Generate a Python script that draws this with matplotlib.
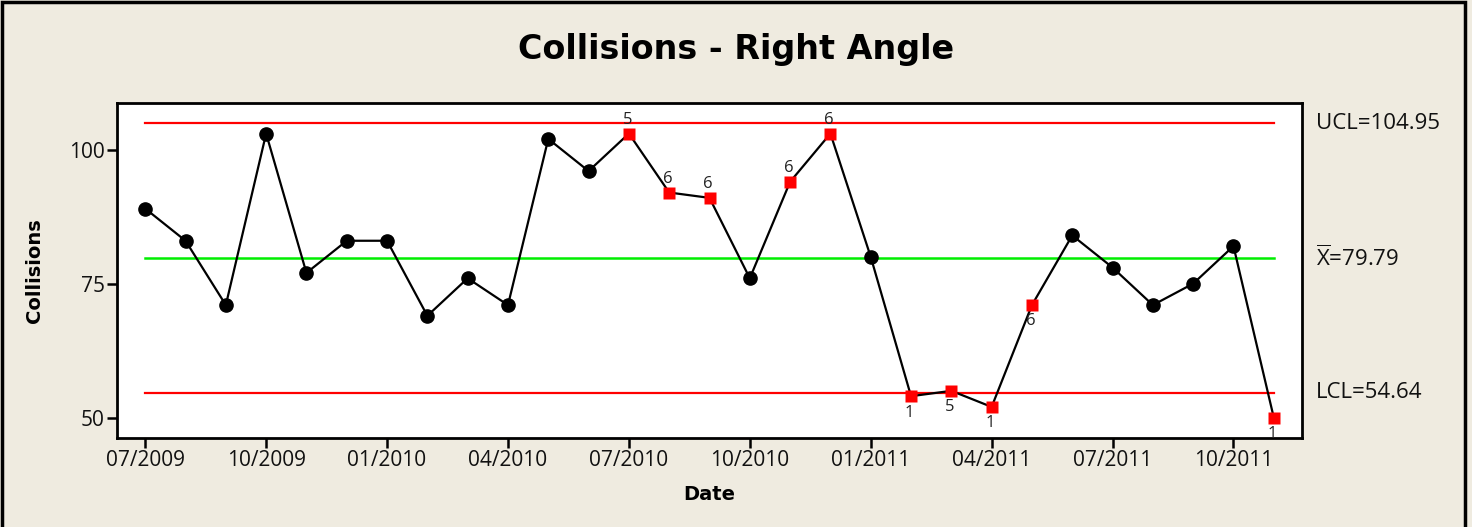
import numpy as np
import matplotlib
matplotlib.use("Agg")
import matplotlib.pyplot as plt
from matplotlib.patches import Rectangle

# Monthly collision counts, 07/2009 .. 11/2011
collisions = [89, 83, 71, 103, 77, 83, 83, 69, 76, 71,
              102, 96, 103, 92, 91, 76, 94, 103, 80, 54,
              55, 52, 71, 84, 78, 71, 75, 82, 50]

# Points flagged by the control chart tests (index -> test number)
flag_index = [12, 13, 14, 16, 17, 19, 20, 21, 22, 28]
flag_test = ["5", "6", "6", "6", "6", "1", "5", "1", "6", "1"]
flag_above = [True, True, True, True, True, False, False, False, False, False]

tick_labels = ["07/2009", "10/2009", "01/2010", "04/2010", "07/2010",
               "10/2010", "01/2011", "04/2011", "07/2011", "10/2011"]

ucl = 104.95
center = 79.79
lcl = 54.64

bg = "#EFEBE0"


def main():
    fig = plt.figure(figsize=(14.72, 5.27), dpi=100, facecolor=bg)
    ax = fig.add_axes([117 / 1472, 1 - 438 / 527, 1185 / 1472, 335 / 527])
    ax.set_facecolor("white")

    x = np.arange(len(collisions))
    y = np.array(collisions, dtype=float)
    normal = [i for i in x if i not in flag_index]

    # control limits and centre line
    ax.plot([x[0], x[-1]], [ucl, ucl], color="#FF0000", lw=1.6, zorder=1)
    ax.plot([x[0], x[-1]], [lcl, lcl], color="#FF0000", lw=1.6, zorder=1)
    ax.plot([x[0], x[-1]], [center, center], color="#00EE00", lw=1.8, zorder=1)

    # data
    ax.plot(x, y, color="black", lw=1.6, marker="o", ms=9.5,
            markevery=normal, zorder=2)
    ax.plot(x[flag_index], y[flag_index], ls="none", marker="s", ms=9,
            mec="none", color="#FF0000", zorder=3)

    for i, t, up in zip(flag_index, flag_test, flag_above):
        ax.annotate(t, (x[i], y[i]), xytext=(-1, 4 if up else -6),
                    textcoords="offset points", ha="center",
                    va="bottom" if up else "top", fontsize=12,
                    family="Open Sans", color="#222222", zorder=4)

    ax.set_xlim(-0.7, 28.7)
    ax.set_ylim(46.2, 108.7)
    ax.set_xticks(x[::3])
    ax.set_xticklabels(tick_labels, family="Open Sans", fontsize=15,
                       color="#111111")
    ax.set_yticks([50, 75, 100])
    ax.set_yticklabels(["50", "75", "100"], family="Open Sans", fontsize=15,
                       color="#111111")
    ax.tick_params(direction="out", length=7, width=1.8, pad=2)
    for s in ax.spines.values():
        s.set_linewidth(2)

    ax.set_xlabel("Date", fontsize=14, fontweight="bold", labelpad=10)
    ax.set_ylabel("Collisions", fontsize=14, fontweight="bold", labelpad=18)

    # limit labels on the right
    lab = dict(transform=ax.get_yaxis_transform(), fontsize=16,
               family="Open Sans", va="center", ha="left", clip_on=False,
               color="#111111")
    ax.text(1.012, ucl, "UCL=104.95", **lab)
    ax.text(1.012, center, r"$\mathregular{\overline{X}}$=79.79", **lab)
    ax.text(1.012, lcl, "LCL=54.64", **lab)

    fig.text(0.5, 1 - 49 / 527, "Collisions - Right Angle", ha="center",
             va="center", fontsize=24, fontweight="bold")

    # outer frame
    fig.patches.append(Rectangle((2 / 1472, -0.1), 1463 / 1472, 1.097,
                                 transform=fig.transFigure, fill=False,
                                 lw=2.5, edgecolor="black"))

    fig.savefig("out.png", dpi=100, facecolor=bg)


if __name__ == "__main__":
    main()
